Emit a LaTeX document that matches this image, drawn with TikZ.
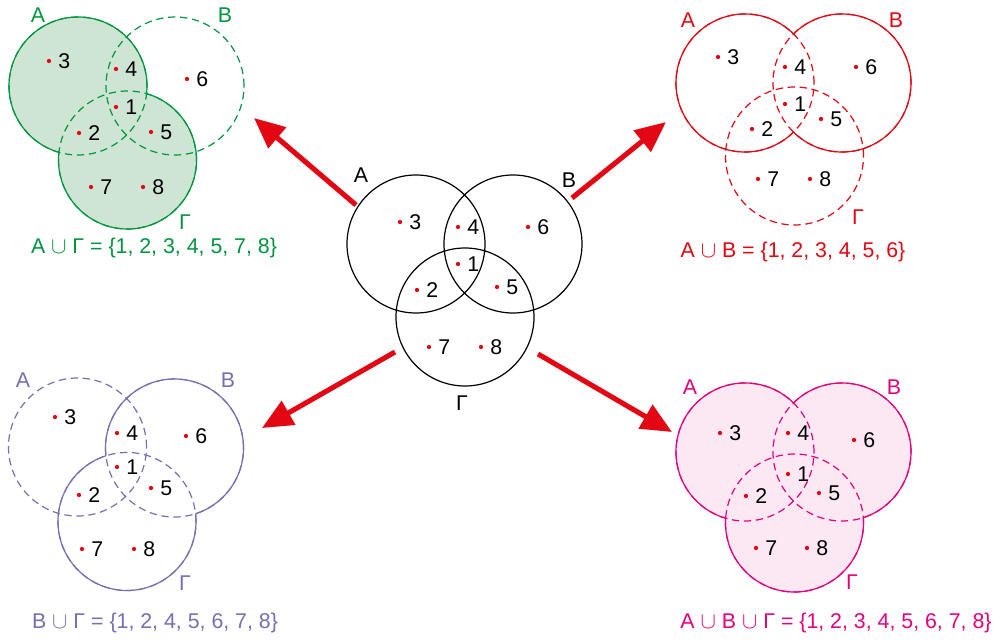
\documentclass[tikz,border=0pt]{standalone}
\usepackage{fontspec}
\setmainfont{Liberation Sans}
\usetikzlibrary{arrows.meta}
\definecolor{arrowred}{RGB}{227,6,19}
\definecolor{gline}{RGB}{0,150,64}
\definecolor{gfill}{RGB}{206,229,212}
\definecolor{rline}{RGB}{227,6,19}
\definecolor{pline}{RGB}{122,110,178}
\definecolor{mline}{RGB}{229,0,126}
\definecolor{mfill}{RGB}{252,232,242}
\newcommand\R{51.75pt}
\tikzset{
  num/.style={anchor=west,inner sep=0pt,font=\fontsize{16}{19}\selectfont,text=black},
  setlbl/.style={inner sep=0pt,font=\fontsize{16}{19}\selectfont},
  dashc/.style={line width=0.9pt,dash pattern=on 5.5pt off 3.5pt},
  solc/.style={line width=0.9pt},
  bigarrow/.style={arrowred,line width=3.8pt,-{Triangle[length=23pt,width=20pt]}},
}
\newcommand\vdot[4]{\fill[arrowred] (#1,#2) circle[radius=1.6pt]; \node[num] (#4) at (#1+9,#2) {#3};}
\newcommand\outsideclip[1]{\clip (0,0) rectangle (1000,642) (#1) circle[radius=\R];}
\begin{document}
\begin{tikzpicture}[x=0.75pt,y=-0.75pt]
\useasboundingbox (0,0) rectangle (1000,642);
\fill[white] (0,0) rectangle (1000,642);

% ---------- centre diagram ----------
\coordinate (cA) at (416,244); \coordinate (cB) at (513,244); \coordinate (cG) at (465,317);
\draw[black,solc] (cA) circle[radius=\R] (cB) circle[radius=\R] (cG) circle[radius=\R];
\node[setlbl] (cLA) at (361,175) {Α};
\node[setlbl] (cLB) at (569,180) {Β};
\node[setlbl] (cLG) at (462,403) {Γ};
\vdot{400}{222}{3}{c3} \vdot{458}{227}{4}{c4} \vdot{528}{227}{6}{c6} \vdot{458}{264}{1}{c1}
\vdot{417}{290}{2}{c2} \vdot{497}{287}{5}{c5} \vdot{429}{347}{7}{c7} \vdot{481}{347}{8}{c8}

% ---------- green: A u G ----------
\coordinate (gA) at (78,86); \coordinate (gB) at (175,86); \coordinate (gG) at (127.5,160);
\fill[gfill] (gA) circle[radius=\R] (gG) circle[radius=\R];
\draw[gline,dashc] (gA) circle[radius=\R] (gB) circle[radius=\R] (gG) circle[radius=\R];
\begin{scope}[even odd rule]\outsideclip{gG}\draw[gline,solc] (gA) circle[radius=\R];\end{scope}
\begin{scope}[even odd rule]\outsideclip{gA}\draw[gline,solc] (gG) circle[radius=\R];\end{scope}
\node[setlbl,text=gline] (gLA) at (38,15) {Α};
\node[setlbl,text=gline] (gLB) at (225,15) {Β};
\node[setlbl,text=gline] (gLG) at (185,222) {Γ};
\node[setlbl,text=gline] (gF) at (154,248) {Α $\cup$ Γ = \{1, 2, 3, 4, 5, 7, 8\}};
\vdot{49}{61}{3}{g3} \vdot{116}{69}{4}{g4} \vdot{187}{79}{6}{g6} \vdot{116}{107}{1}{g1}
\vdot{79}{133}{2}{g2} \vdot{151}{132}{5}{g5} \vdot{91}{187}{7}{g7} \vdot{143}{187}{8}{g8}

% ---------- red: A u B ----------
\coordinate (rA) at (745,83); \coordinate (rB) at (842,83); \coordinate (rG) at (794.5,156);
\draw[rline,dashc] (rA) circle[radius=\R] (rB) circle[radius=\R] (rG) circle[radius=\R];
\begin{scope}[even odd rule]\outsideclip{rB}\draw[rline,solc] (rA) circle[radius=\R];\end{scope}
\begin{scope}[even odd rule]\outsideclip{rA}\draw[rline,solc] (rB) circle[radius=\R];\end{scope}
\node[setlbl,text=rline] (rLA) at (688,20) {Α};
\node[setlbl,text=rline] (rLB) at (896,20) {Β};
\node[setlbl,text=rline] (rLG) at (858,217) {Γ};
\node[setlbl,text=rline] (rF) at (793,252) {Α $\cup$ Β = \{1, 2, 3, 4, 5, 6\}};
\vdot{718}{57}{3}{r3} \vdot{785}{67}{4}{r4} \vdot{856}{67}{6}{r6} \vdot{785}{104}{1}{r1}
\vdot{752}{129}{2}{r2} \vdot{821}{119}{5}{r5} \vdot{758}{179}{7}{r7} \vdot{810}{179}{8}{r8}

% ---------- purple: B u G ----------
\coordinate (pA) at (77.5,447); \coordinate (pB) at (174.5,448); \coordinate (pG) at (127,521.5);
\draw[pline,dashc] (pA) circle[radius=\R] (pB) circle[radius=\R] (pG) circle[radius=\R];
\begin{scope}[even odd rule]\outsideclip{pG}\draw[pline,solc] (pB) circle[radius=\R];\end{scope}
\begin{scope}[even odd rule]\outsideclip{pB}\draw[pline,solc] (pG) circle[radius=\R];\end{scope}
\node[setlbl,text=pline] (pLA) at (23,380) {Α};
\node[setlbl,text=pline] (pLB) at (228,380) {Β};
\node[setlbl,text=pline] (pLG) at (185,583) {Γ};
\node[setlbl,text=pline] (pF) at (155,623) {Β $\cup$ Γ = \{1, 2, 4, 5, 6, 7, 8\}};
\vdot{55}{417}{3}{p3} \vdot{117}{433}{4}{p4} \vdot{186}{436}{6}{p6} \vdot{117}{467}{1}{p1}
\vdot{79}{495}{2}{p2} \vdot{151}{488}{5}{p5} \vdot{82}{549}{7}{p7} \vdot{134}{549}{8}{p8}

% ---------- magenta: A u B u G ----------
\coordinate (mA) at (745,452); \coordinate (mB) at (842,452); \coordinate (mG) at (794.5,523);
\fill[mfill] (mA) circle[radius=\R] (mB) circle[radius=\R] (mG) circle[radius=\R];
\draw[mline,dashc] (mA) circle[radius=\R] (mB) circle[radius=\R] (mG) circle[radius=\R];
\begin{scope}[even odd rule]\outsideclip{mB}\begin{scope}\outsideclip{mG}\draw[mline,solc] (mA) circle[radius=\R];\end{scope}\end{scope}
\begin{scope}[even odd rule]\outsideclip{mA}\begin{scope}\outsideclip{mG}\draw[mline,solc] (mB) circle[radius=\R];\end{scope}\end{scope}
\begin{scope}[even odd rule]\outsideclip{mA}\begin{scope}\outsideclip{mB}\draw[mline,solc] (mG) circle[radius=\R];\end{scope}\end{scope}
\node[setlbl,text=mline] (mLA) at (690,387) {Α};
\node[setlbl,text=mline] (mLB) at (894,387) {Β};
\node[setlbl,text=mline] (mLG) at (852,582) {Γ};
\node[setlbl,text=mline] (mF) at (836,623) {Α $\cup$ Β $\cup$ Γ = \{1, 2, 3, 4, 5, 6, 7, 8\}};
\vdot{720}{433}{3}{m3} \vdot{788}{433}{4}{m4} \vdot{854}{440}{6}{m6} \vdot{788}{474}{1}{m1}
\vdot{746}{496}{2}{m2} \vdot{819}{493}{5}{m5} \vdot{756}{548}{7}{m7} \vdot{807}{548}{8}{m8}

% ---------- arrows ----------
\coordinate (a1s) at (356,205); \coordinate (a1e) at (254,118);
\coordinate (a2s) at (572,198); \coordinate (a2e) at (666,122);
\coordinate (a3s) at (395,352); \coordinate (a3e) at (262,428);
\coordinate (a4s) at (538,354); \coordinate (a4e) at (672,432);
\draw[bigarrow] (a1s) -- (a1e);
\draw[bigarrow] (a2s) -- (a2e);
\draw[bigarrow] (a3s) -- (a3e);
\draw[bigarrow] (a4s) -- (a4e);
\end{tikzpicture}
\end{document}
